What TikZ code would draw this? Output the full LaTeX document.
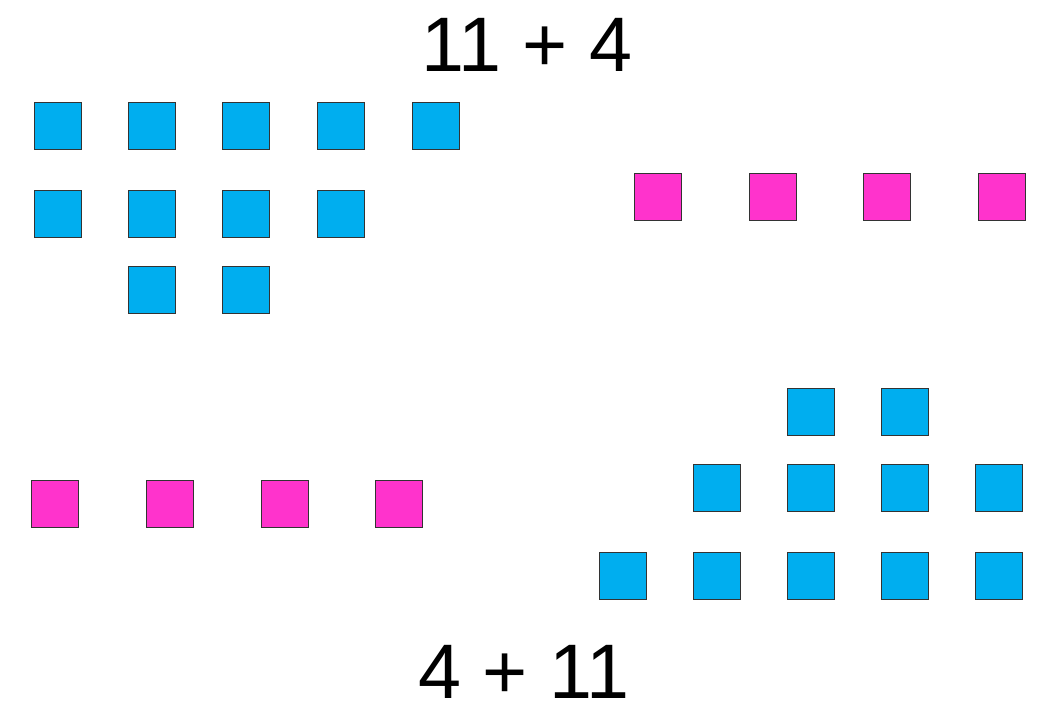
\documentclass[tikz,border=0pt]{standalone}
\usepackage{fontspec}
\setmainfont{Liberation Sans}
\definecolor{tileblue}{HTML}{00AEEF}
\definecolor{tilepink}{HTML}{FF33CC}
\begin{document}
\begin{tikzpicture}[
    x=0.02cm, y=-0.02cm,
    blue tile/.style={draw=black!80, fill=tileblue, minimum size=0.94cm, inner sep=0pt, line width=0.5pt},
    pink tile/.style={draw=black!80, fill=tilepink, minimum size=0.94cm, inner sep=0pt, line width=0.5pt},
    sum label/.style={font=\fontsize{44}{48}\selectfont},
    ]
\useasboundingbox (0,0) rectangle (1046,720);
\node[sum label] (top) at (527,45) {11 + 4};
\node[sum label] (bottom) at (524,672) {4 + 11};
% eleven then four
\foreach \x [count=\i] in {58,152,246,341,436}
  \node[blue tile] (a\i) at (\x,126) {};
\foreach \x [count=\i] in {58,152,246,341}
  \node[blue tile] (b\i) at (\x,214) {};
\foreach \x [count=\i] in {152,246}
  \node[blue tile] (c\i) at (\x,290) {};
\foreach \x [count=\i] in {658,773,887,1002}
  \node[pink tile] (p\i) at (\x,197) {};
% four then eleven
\foreach \x [count=\i] in {55,170,285,399}
  \node[pink tile] (q\i) at (\x,504) {};
\foreach \x [count=\i] in {811,905}
  \node[blue tile] (d\i) at (\x,412) {};
\foreach \x [count=\i] in {717,811,905,999}
  \node[blue tile] (e\i) at (\x,488) {};
\foreach \x [count=\i] in {623,717,811,905,999}
  \node[blue tile] (f\i) at (\x,576) {};
\end{tikzpicture}
\end{document}
